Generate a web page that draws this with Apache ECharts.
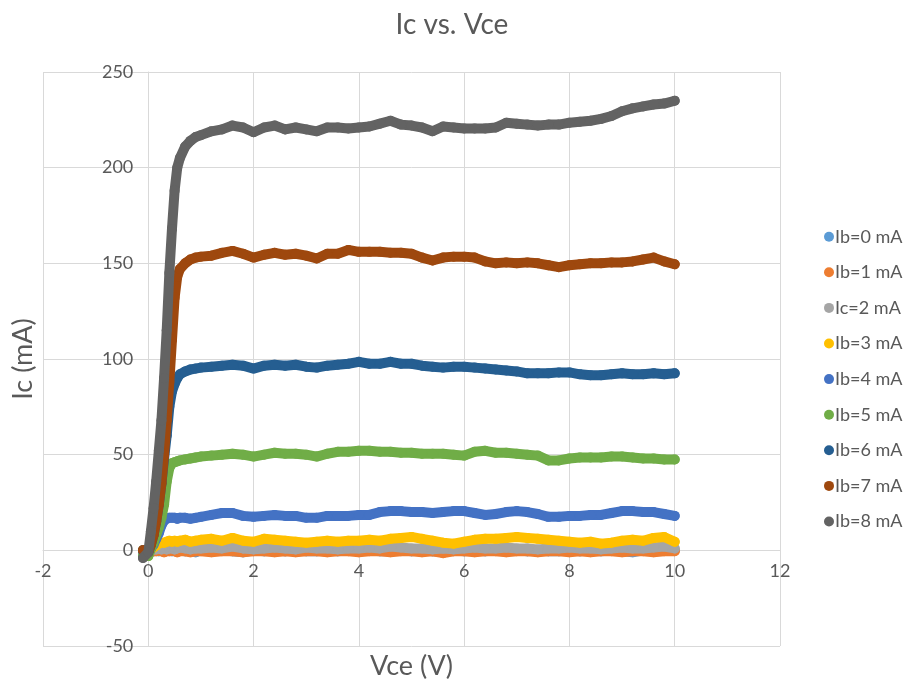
<!DOCTYPE html>
<html>
<head>
<meta charset="utf-8">
<script src="https://cdn.jsdelivr.net/npm/echarts@6/dist/echarts.min.js"></script>
<style>html,body{margin:0;padding:0;background:#fff}#c{width:904px;height:683px}</style>
</head>
<body>
<div id="c"></div>
<script>
// Vce sample positions (V)
var vce = [-0.1, 0, 0.05, 0.1, 0.15, 0.2, 0.25, 0.3, 0.35, 0.4, 0.45, 0.5, 0.55, 0.6, 0.7, 0.8, 0.9, 1.0,
  1.2, 1.4, 1.6, 1.8, 2.0, 2.2, 2.4, 2.6, 2.8, 3.0, 3.2, 3.4, 3.6, 3.8, 4.0, 4.2, 4.4, 4.6, 4.8, 5.0,
  5.2, 5.4, 5.6, 5.8, 6.0, 6.2, 6.4, 6.6, 6.8, 7.0, 7.2, 7.4, 7.6, 7.8, 8.0, 8.2, 8.4, 8.6, 8.8, 9.0,
  9.2, 9.4, 9.6, 9.8, 10.0];

var seriesNames = ['Ib=0 mA', 'Ib=1 mA', 'Ic=2 mA', 'Ib=3 mA', 'Ib=4 mA', 'Ib=5 mA', 'Ib=6 mA', 'Ib=7 mA', 'Ib=8 mA'];

var ib0 = [0, -0.5, 0, -0.5, 0, -0.5, 0, -0.5, 0, 0, -0.5, 0, -0.5, 0, -0.5, 0, -1, 0,
  -0.5, 0, -0.5, -1, 0, -0.5, 0, -0.5, 0, -0.5, -0.5, 0, -0.5, 0, -0.5, 0, -0.5, -0.5, 0, -0.5,
  0, -0.5, -1, 0, -0.5, 0, -0.5, 0, -0.5, 0, -0.5, 0, -0.5, -0.5, 0, -0.5, 0, -0.5, 0, -0.5,
  -1, 0, -0.5, 0, 0];
var ib1 = [0, -0.5, 0, -0.5, -0.5, 0, -0.5, -1, -0.5, -0.5, 0, -0.5, -1, -0.5, -0.5, -1, -0.5, -0.5,
  -1, -0.5, -0.5, -1, -0.5, -0.5, -1, -0.5, -1, -0.5, -0.5, -1, -0.5, -0.5, -1, -0.5, -0.5, -1, -0.5, -0.5,
  -1, -0.5, -1.5, -0.5, -0.5, -1, -0.5, -0.5, -1, -0.5, -0.5, -1, -0.5, -0.5, -1, -0.5, -1, -0.5, -0.5, -1,
  -0.5, -0.5, -1, -0.5, -0.5];
var ic2 = [0, -1, 0, 0.5, 0.5, 1, 0.5, 1, 0.5, 1, 1, 0.5, 1, 1.5, 1, 0.5, 1, 1,
  1.5, 1, 2, 1, 0.5, 1, 1.5, 1, 0.5, 1.5, 1, 1, 0.5, 1, 1, 1.5, 1, 2, 1.5, 1,
  1, 0.5, 1, 0.5, 1, 1.5, 1, 1, 1.5, 1, 1, 0.5, 1, 1, 1.5, 1, 1, 0.5, 1, 1.5,
  1, 1, 1.5, 2, 1];
var ib3 = [0, -1, 0.5, 1.5, 2.5, 3.5, 4, 4, 4.5, 5, 4.5, 5, 4.5, 5, 5.5, 4.5, 5, 5.5,
  6, 5, 6.5, 5, 4.5, 6, 5.5, 5, 4.5, 4, 4.5, 5, 4.5, 5, 5, 5.5, 5, 6, 6.5, 7,
  6, 5, 4, 3.5, 4.5, 5.5, 6, 6, 6.5, 7, 6.5, 6, 5.5, 5, 4.5, 4, 4.5, 3.5, 4, 5,
  5.5, 5, 6.5, 7, 4.5];
var ib4 = [-1, -2, 1, 3, 6, 9, 13, 15.5, 16.5, 17, 17, 17, 16.5, 17, 17, 16.5, 17, 17.5,
  18.5, 19.5, 19.5, 18, 17.5, 18, 18.5, 18, 18, 17, 17, 18, 18, 18, 18.5, 18.5, 20, 20.5, 20.5, 20,
  20, 19.5, 20, 20.5, 20.5, 19.5, 18.5, 19, 20, 20.5, 20, 19, 17.5, 17.5, 18, 18, 18.5, 18.5, 19.5, 20.5,
  20.5, 20, 20, 19, 18];
var ib5 = [-3, -3, 1, 4, 8, 12, 17, 24, 36, 43, 45.5, 46, 46.5, 47, 47.5, 48, 48.5, 49,
  49.5, 50, 50.5, 50, 49, 50, 51, 50.5, 50.5, 50, 49, 50.5, 51.5, 51.5, 52, 52, 51.5, 51.5, 51, 51,
  50.5, 50.5, 50.5, 50, 49.5, 51.5, 52, 51, 51, 50.5, 50, 49.5, 47, 47, 48, 48.5, 48.5, 48.5, 49, 49,
  48.5, 48, 48, 47.5, 47.5];
var ib6 = [0, -1, 3, 8, 15, 24, 35, 48, 60, 75, 83, 87, 90, 92, 93.5, 94.5, 95, 95.5,
  96, 96.5, 97, 96.5, 95, 96.5, 97, 96.5, 97, 96, 95.5, 96.5, 97, 97.5, 98.5, 97.5, 97.5, 98.5, 97.5, 97.5,
  96.5, 96, 95.5, 96, 96, 95.5, 95, 94.5, 94, 93.5, 92.5, 92.5, 92.5, 93, 93, 92, 91.5, 91.5, 92, 92.5,
  92, 92, 92.5, 92, 92.5];
var ib7 = [0, -1, 3, 8, 15, 24, 35, 50, 68, 88, 110, 132, 143, 147, 150, 152, 153, 153.5,
  154, 155.5, 156.5, 155, 153, 154.5, 155.5, 154.5, 155, 154, 152.5, 155, 155, 157, 156, 156, 156, 155.5, 155.5, 155,
  153, 151.5, 153, 153.5, 153.5, 153, 151, 150, 150.5, 150, 150.5, 150, 149, 148, 149, 149.5, 150, 150, 150.5, 150.5,
  151, 152, 153, 151, 149.5];
var ib8 = [-4, -1, 10, 22, 36, 52, 68, 90, 115, 145, 168, 188, 200, 205, 211, 214, 216, 217,
  219, 220, 222, 221, 218.5, 221, 222, 220, 221, 220, 219, 221, 221, 220.5, 221, 221.5, 223, 224.5, 222.5, 222,
  221, 219, 221.5, 221, 220.5, 220.5, 220.5, 221, 223.5, 223, 222.5, 222, 222.5, 222.5, 223.5, 224, 224.5, 225.5, 227, 229.5,
  231, 232, 233, 233.5, 235];

var seriesValues = [ib0, ib1, ic2, ib3, ib4, ib5, ib6, ib7, ib8];
var colors = ['#5B9BD5', '#ED7D31', '#A5A5A5', '#FFC000', '#4472C4', '#70AD47', '#255E91', '#9E480E', '#636363'];

var xTicks = { min: -2, max: 12, interval: 2 };
var yTicks = { min: -50, max: 250, interval: 50 };

var FONT = 'Lato';
var TXT = '#595959';
var GRID = '#D9D9D9';

// plot box in pixels
var G = { left: 43, right: 124, top: 72, bottom: 37 };
var W = 904, H = 683;
var plotW = W - G.left - G.right, plotH = H - G.top - G.bottom;
// put the axes through the origin, like the reference (axes cross at 0)
var xZeroFromLeft = (0 - xTicks.min) / (xTicks.max - xTicks.min) * plotW;
var yZeroFromBottom = (0 - yTicks.min) / (yTicks.max - yTicks.min) * plotH;

var series = seriesValues.map(function (vals, k) {
  return {
    name: seriesNames[k],
    type: 'line',
    data: vce.map(function (v, i) { return [v, vals[i]]; }),
    symbol: 'circle',
    symbolSize: 10,
    showSymbol: true,
    itemStyle: { color: colors[k] },
    lineStyle: { color: colors[k], width: 10, cap: 'round', join: 'round' },
    z: 2 + k,
    animation: false
  };
});

var chart = echarts.init(document.getElementById('c'), null, { renderer: 'canvas' });
chart.setOption({
  animation: false,
  backgroundColor: '#ffffff',
  color: colors,
  title: {
    text: 'Ic vs. Vce',
    left: 'center',
    top: 6,
    textStyle: { fontFamily: FONT, fontSize: 28, fontWeight: 'normal', color: TXT }
  },
  legend: {
    orient: 'vertical',
    left: 824,
    top: 227.7,
    icon: 'circle',
    itemWidth: 10,
    itemHeight: 10,
    itemGap: 17.6,
    padding: 0,
    data: seriesNames,
    textStyle: { fontFamily: FONT, fontSize: 18, color: TXT, lineHeight: 16, padding: [0, 0, 0, -4] }
  },
  grid: { left: G.left, right: G.right, top: G.top, bottom: G.bottom, containLabel: false, outerBoundsMode: 'none' },
  xAxis: {
    type: 'value',
    min: xTicks.min, max: xTicks.max, interval: xTicks.interval,
    offset: -yZeroFromBottom,
    name: 'Vce (V)',
    nameLocation: 'middle',
    nameGap: 102,
    nameTextStyle: { fontFamily: FONT, fontSize: 27, color: TXT },
    axisLine: { show: true, onZero: false, lineStyle: { color: GRID, width: 1 } },
    axisTick: { show: false },
    axisLabel: { margin: 12, fontFamily: FONT, fontSize: 18, color: TXT },
    splitLine: { show: true, lineStyle: { color: GRID, width: 1 } }
  },
  yAxis: {
    type: 'value',
    min: yTicks.min, max: yTicks.max, interval: yTicks.interval,
    offset: -xZeroFromLeft,
    name: 'Ic (mA)',
    nameLocation: 'middle',
    nameGap: 111,
    nameTextStyle: { fontFamily: FONT, fontSize: 27, color: TXT },
    axisLine: { show: true, onZero: false, lineStyle: { color: GRID, width: 1 } },
    axisTick: { show: false },
    axisLabel: { margin: 15, fontFamily: FONT, fontSize: 18, color: TXT },
    splitLine: { show: true, lineStyle: { color: GRID, width: 1 } }
  },
  series: series
});
</script>
</body>
</html>
